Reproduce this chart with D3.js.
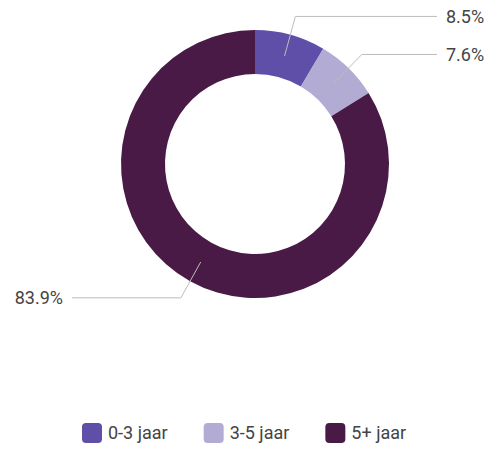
<!DOCTYPE html>
<html>
<head>
<meta charset="utf-8">
<script src="https://cdn.jsdelivr.net/npm/d3@7/dist/d3.min.js"></script>
<style>
  body { margin: 0; background: #fff; }
  svg { display: block; font-family: Roboto, "Noto Sans", sans-serif; }
</style>
</head>
<body>
<svg id="chart" width="501" height="449"></svg>
<script>
// Data
const categories = ['0-3 jaar', '3-5 jaar', '5+ jaar'];
const values = [8.5, 7.6, 83.9];
const colors = ['#5f4fa8', '#b2acd5', '#4a1a46'];

const width = 501;
const height = 449;
const cx = 255;
const cy = 164;
const outerR = 134;
const innerR = 90;

const svg = d3.select('#chart');
const g = svg.append('g').attr('transform', 'translate(' + cx + ',' + cy + ')');

const pie = d3.pie().sort(null).value(d => d.value);
const arcs = pie(categories.map((c, i) => ({ name: c, value: values[i] })));

const arc = d3.arc().innerRadius(innerR).outerRadius(outerR);
const midArc = d3.arc().innerRadius((innerR + outerR) / 2).outerRadius((innerR + outerR) / 2);
const elbowArc = d3.arc().innerRadius(153).outerRadius(153);

const color = d3.scaleOrdinal().domain(categories).range(colors);

// Slices
g.selectAll('path.slice')
  .data(arcs)
  .join('path')
  .attr('class', 'slice')
  .attr('d', arc)
  .attr('fill', d => color(d.data.name));

// Leader lines and labels
arcs.forEach(d => {
  const mid = (d.startAngle + d.endAngle) / 2;
  const right = mid < Math.PI;
  const p0 = midArc.centroid(d);
  const p1 = elbowArc.centroid(d);
  const xEnd = right ? 437 - cx : 72 - cx;

  g.append('polyline')
    .attr('points', [p0, p1, [xEnd, p1[1]]].map(p => p.join(',')).join(' '))
    .attr('fill', 'none')
    .attr('stroke', '#bdbdbd')
    .attr('stroke-width', 1);

  g.append('text')
    .attr('x', right ? xEnd + 9 : xEnd - 9)
    .attr('y', p1[1])
    .attr('dy', '0.35em')
    .attr('text-anchor', right ? 'start' : 'end')
    .attr('font-size', 18)
    .attr('fill', '#444')
    .text(d3.format('.1f')(d.data.value) + '%');
});

// Legend
const legend = svg.append('g').attr('transform', 'translate(82,433)');
let x = 0;
categories.forEach((c, i) => {
  const item = legend.append('g').attr('transform', 'translate(' + x + ',0)');
  item.append('rect')
    .attr('x', 0).attr('y', -10)
    .attr('width', 20).attr('height', 20)
    .attr('rx', 4)
    .attr('fill', color(c));
  const t = item.append('text')
    .attr('x', 26)
    .attr('dy', '0.35em')
    .attr('font-size', 18)
    .attr('fill', '#444')
    .text(c);
  x += 26 + t.node().getComputedTextLength() + 36;
});
</script>
</body>
</html>
